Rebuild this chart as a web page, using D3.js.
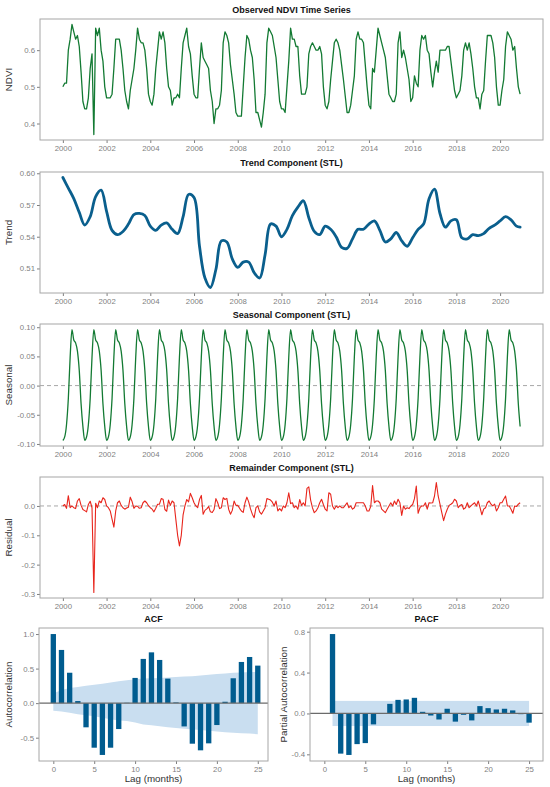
<!DOCTYPE html>
<html>
<head>
<meta charset="utf-8">
<script src="https://cdn.jsdelivr.net/npm/d3@7"></script>
<style>
  body { margin: 0; background: #fff; }
  svg { font-family: "Liberation Sans", Arial, sans-serif; }
  .tick text { fill: #7f7f7f; font-size: 7.8px; }
  .tick line { stroke: #7f7f7f; }
  .ptitle { font-weight: bold; font-size: 9px; fill: #111; }
  .atitle { font-size: 9.8px; fill: #333; }
</style>
</head>
<body>
<script>
// ---- data ----
// monthly NDVI, Jan 2000 .. Dec 2020 (one row per year)
var observed = [
  0.50,0.51,0.51,0.60,0.63,0.67,0.65,0.63,0.64,0.61,0.54,0.46,
  0.44,0.44,0.47,0.55,0.59,0.37,0.66,0.64,0.66,0.60,0.57,0.50,
  0.47,0.47,0.47,0.48,0.55,0.63,0.63,0.63,0.60,0.55,0.49,0.46,
  0.44,0.49,0.52,0.55,0.60,0.66,0.63,0.62,0.62,0.60,0.55,0.48,
  0.46,0.45,0.48,0.55,0.60,0.65,0.63,0.65,0.62,0.55,0.50,0.49,
  0.45,0.47,0.47,0.48,0.47,0.55,0.62,0.64,0.66,0.61,0.59,0.53,
  0.48,0.47,0.47,0.55,0.62,0.58,0.57,0.56,0.55,0.49,0.46,0.40,
  0.44,0.44,0.45,0.49,0.62,0.65,0.64,0.62,0.56,0.52,0.48,0.43,
  0.42,0.42,0.42,0.50,0.58,0.64,0.63,0.60,0.58,0.52,0.43,0.43,
  0.41,0.39,0.43,0.48,0.62,0.66,0.65,0.64,0.61,0.58,0.52,0.46,
  0.44,0.44,0.43,0.50,0.57,0.66,0.63,0.63,0.61,0.61,0.53,0.48,
  0.48,0.48,0.50,0.59,0.61,0.62,0.61,0.60,0.60,0.61,0.59,0.50,
  0.45,0.44,0.46,0.52,0.57,0.62,0.63,0.62,0.60,0.56,0.52,0.475,
  0.43,0.43,0.45,0.49,0.53,0.63,0.65,0.63,0.63,0.62,0.56,0.50,
  0.45,0.44,0.55,0.54,0.60,0.66,0.64,0.62,0.60,0.58,0.53,0.48,
  0.47,0.46,0.46,0.48,0.62,0.65,0.58,0.60,0.58,0.55,0.52,0.46,
  0.47,0.53,0.51,0.50,0.60,0.64,0.63,0.64,0.60,0.59,0.54,0.50,
  0.54,0.57,0.54,0.60,0.60,0.60,0.60,0.61,0.61,0.57,0.53,0.49,
  0.47,0.48,0.49,0.53,0.60,0.62,0.60,0.62,0.59,0.55,0.50,0.47,
  0.47,0.44,0.48,0.49,0.57,0.64,0.64,0.64,0.62,0.58,0.50,0.45,
  0.45,0.49,0.52,0.61,0.65,0.64,0.63,0.60,0.61,0.55,0.50,0.48
];

// STL trend, read every third month (Jan, Apr, Jul, Oct) plus the last month
var trend = [
  0.596,0.586,0.576,0.563, 0.551,0.559,0.578,0.584, 0.564,0.546,0.542,0.545,
  0.552,0.561,0.562,0.560, 0.550,0.546,0.551,0.553, 0.547,0.543,0.559,0.580,
  0.577,0.531,0.501,0.492, 0.509,0.536,0.535,0.519, 0.511,0.516,0.516,0.506,
  0.501,0.523,0.552,0.550, 0.540,0.547,0.560,0.568, 0.574,0.558,0.545,0.542,
  0.550,0.547,0.540,0.530, 0.529,0.538,0.547,0.547, 0.552,0.555,0.546,0.535,
  0.538,0.544,0.536,0.531, 0.539,0.547,0.552,0.576, 0.585,0.562,0.549,0.555,
  0.556,0.539,0.538,0.542, 0.541,0.543,0.548,0.551, 0.555,0.559,0.556,0.550,
  0.549
];

// STL seasonal component, Jan..Dec (identical every year)
var seasonalCycle = [-0.094,-0.088,-0.067,-0.022,0.049,0.096,0.078,0.073,0.059,0.026,-0.031,-0.070];

// STL remainder, monthly
var remainder = [
  0.000,0.005,-0.008,0.035,-0.006,0.000,-0.006,-0.009,0.017,0.025,0.002,-0.012,
  -0.016,-0.020,0.005,0.016,-0.006,-0.295,0.009,-0.006,0.017,0.011,0.028,0.022,
  0.000,-0.006,-0.017,-0.045,-0.072,-0.017,0.011,0.017,0.002,-0.006,-0.011,-0.007,
  -0.004,0.030,0.015,-0.008,0.000,-0.001,-0.008,-0.006,0.011,0.017,0.011,0.001,
  -0.006,-0.011,-0.020,-0.008,0.006,0.006,0.025,0.023,-0.012,-0.018,0.020,0.002,
  0.017,0.011,-0.045,-0.100,-0.136,-0.100,-0.030,0.000,0.022,0.014,0.043,0.028,
  0.011,0.000,-0.006,0.022,0.036,-0.028,-0.015,-0.010,-0.002,-0.020,-0.022,-0.012,
  0.025,0.011,-0.009,-0.006,0.028,0.022,0.026,-0.011,-0.028,-0.015,0.017,0.002,
  0.002,-0.008,-0.017,-0.022,0.011,0.030,0.014,-0.010,-0.028,-0.040,-0.006,0.000,
  -0.020,-0.028,-0.017,-0.006,0.025,0.023,0.020,0.013,0.000,0.017,-0.017,-0.009,
  -0.017,0.000,-0.006,0.011,0.045,0.008,0.011,-0.006,0.000,-0.011,0.022,0.002,
  0.011,0.000,0.060,0.065,0.020,-0.006,-0.023,-0.017,-0.006,0.011,0.023,0.005,
  -0.011,-0.017,0.045,0.040,0.000,-0.011,0.000,-0.006,0.000,-0.006,-0.006,0.002,
  0.011,-0.006,0.000,-0.011,-0.006,0.011,0.011,0.011,0.011,0.011,0.000,-0.017,
  -0.017,-0.002,0.070,0.011,0.017,0.017,0.011,-0.011,-0.017,-0.023,-0.011,0.000,
  0.011,0.000,0.017,0.005,0.023,0.011,-0.032,0.000,-0.011,-0.006,-0.009,0.000,
  0.005,0.025,0.068,-0.025,-0.006,0.000,0.000,0.011,-0.011,0.011,0.010,0.011,
  0.034,0.080,0.034,0.006,-0.023,-0.050,-0.028,-0.011,0.002,0.006,0.011,0.023,
  0.017,-0.006,0.002,0.005,-0.011,-0.006,0.011,-0.006,0.000,0.006,0.011,0.000,
  0.017,-0.006,-0.030,-0.011,-0.006,0.011,0.017,0.006,0.000,0.006,-0.017,-0.006,
  0.011,0.011,0.023,0.034,0.000,0.000,-0.011,-0.025,0.000,-0.002,0.006,0.011
];

// ACF, lags 0..25, with the band edges
var acf = [1.00,0.77,0.44,0.03,-0.35,-0.645,-0.75,-0.645,-0.375,0.005,0.365,0.64,0.735,
           0.625,0.355,0.01,-0.337,-0.587,-0.683,-0.582,-0.317,0.02,0.36,0.596,0.668,0.543];
var acfUpper = [0.14,0.19,0.22,0.235,0.25,0.265,0.28,0.30,0.315,0.33,0.345,0.355,0.36,
                0.365,0.37,0.38,0.385,0.39,0.40,0.41,0.42,0.43,0.44,0.445,0.45,0.45];
var acfLower = [-0.11,-0.12,-0.14,-0.16,-0.175,-0.19,-0.21,-0.235,-0.25,-0.26,-0.28,-0.31,-0.32,
                -0.335,-0.35,-0.36,-0.37,-0.38,-0.39,-0.40,-0.41,-0.42,-0.43,-0.435,-0.44,-0.45];

// PACF, lags 1..25, and its constant band
var pacf = [0.777,-0.393,-0.406,-0.30,-0.29,-0.107,0.003,0.094,0.133,0.137,0.153,0.016,-0.02,
            -0.059,0.046,-0.08,-0.013,-0.068,0.072,0.052,0.039,0.046,0.03,-0.007,-0.09];
var pacfBand = 0.123;

var yearTicks = [2000,2002,2004,2006,2008,2010,2012,2014,2016,2018,2020];
var lagTicks = [0,5,10,15,20,25];
var ndviTicks = [0.4,0.5,0.6];
var trendTicks = [0.51,0.54,0.57,0.60];
var seasonalTicks = [-0.10,-0.05,0.00,0.05,0.10];
var residTicks = [-0.3,-0.2,-0.1,0.0];
var acfTicks = [-0.5,0.0,0.5,1.0];
var pacfTicks = [-0.4,0.0,0.4,0.8];

// ---- drawing ----
var svg = d3.select("body").append("svg").attr("width", 550).attr("height", 787);

function fmt(spec) {
  var f = d3.format(spec);
  return function(v) { return f(v).replace("\u2212", "-"); };
}

function padded(ext) {
  var p = (ext[1] - ext[0]) * 0.05;
  return [ext[0] - p, ext[1] + p];
}

function panel(o) {
  var g = svg.append("g");
  g.append("g")
    .attr("transform", `translate(${o.left},0)`)
    .call(d3.axisLeft(o.y).tickValues(o.yTicks).tickFormat(o.yFmt).tickSize(3).tickPadding(2))
    .call(a => a.select(".domain").remove());
  g.append("g")
    .attr("transform", `translate(0,${o.bottom})`)
    .call(d3.axisBottom(o.x).tickValues(o.xTicks).tickFormat(o.xFmt).tickSize(3).tickPadding(2))
    .call(a => a.select(".domain").remove());
  g.append("text").attr("class", "ptitle")
    .attr("x", (o.left + o.right) / 2).attr("y", o.top - 6)
    .attr("text-anchor", "middle").text(o.title);
  g.append("text").attr("class", "atitle")
    .attr("transform", `translate(${o.ylabX},${(o.top + o.bottom) / 2}) rotate(-90)`)
    .attr("text-anchor", "middle").text(o.ylab);
  if (o.xlab) {
    g.append("text").attr("class", "atitle")
      .attr("x", (o.left + o.right) / 2).attr("y", o.bottom + 21)
      .attr("text-anchor", "middle").text(o.xlab);
  }
  var plot = g.append("g");
  g.append("rect")
    .attr("x", o.left).attr("y", o.top)
    .attr("width", o.right - o.left).attr("height", o.bottom - o.top)
    .attr("fill", "none").attr("stroke", "#a6a6a6").attr("stroke-width", 1);
  return plot;
}

// time axis shared by the four STL panels
var times = observed.map((d, i) => 2000 + i / 12);
var x = d3.scaleLinear().domain(padded(d3.extent(times))).range([40, 543]);
var yearFmt = d3.format("d");

function zeroDash(g, y) {
  g.append("line")
    .attr("x1", 40).attr("x2", 543)
    .attr("y1", y(0)).attr("y2", y(0))
    .attr("stroke", "#a8a8a8").attr("stroke-width", 1).attr("stroke-dasharray", "4,3");
}

// 1. observed
var y1 = d3.scaleLinear().domain(padded(d3.extent(observed))).range([140, 19]);
var g1 = panel({left: 40, right: 543, top: 19, bottom: 140, x: x, y: y1,
  xTicks: yearTicks, xFmt: yearFmt, yTicks: ndviTicks, yFmt: fmt(".1f"),
  title: "Observed NDVI Time Series", ylab: "NDVI", ylabX: 12});
g1.append("path")
  .datum(observed)
  .attr("fill", "none").attr("stroke", "#137a33").attr("stroke-width", 1.3)
  .attr("stroke-linejoin", "round")
  .attr("d", d3.line().x((d, i) => x(times[i])).y(d => y1(d)));

// 2. trend
var trendMonth = trend.map((d, i) => Math.min(i * 3, observed.length - 1));
var y2 = d3.scaleLinear().domain(padded(d3.extent(trend))).range([293, 172]);
var g2 = panel({left: 40, right: 543, top: 172, bottom: 293, x: x, y: y2,
  xTicks: yearTicks, xFmt: yearFmt, yTicks: trendTicks, yFmt: fmt(".2f"),
  title: "Trend Component (STL)", ylab: "Trend", ylabX: 12});
g2.append("path")
  .datum(trend)
  .attr("fill", "none").attr("stroke", "#0a5f8d").attr("stroke-width", 2.8)
  .attr("stroke-linejoin", "round").attr("stroke-linecap", "round")
  .attr("d", d3.line().curve(d3.curveCatmullRom)
    .x((d, i) => x(2000 + trendMonth[i] / 12)).y(d => y2(d)));

// 3. seasonal
var seasonal = times.map((t, i) => seasonalCycle[i % 12]);
var y3 = d3.scaleLinear().domain(padded(d3.extent(seasonal))).range([446, 324]);
var g3 = panel({left: 40, right: 543, top: 324, bottom: 446, x: x, y: y3,
  xTicks: yearTicks, xFmt: yearFmt, yTicks: seasonalTicks, yFmt: fmt(".2f"),
  title: "Seasonal Component (STL)", ylab: "Seasonal", ylabX: 12});
zeroDash(g3, y3);
g3.append("path")
  .datum(seasonal)
  .attr("fill", "none").attr("stroke", "#137a33").attr("stroke-width", 1.3)
  .attr("stroke-linejoin", "round")
  .attr("d", d3.line().curve(d3.curveMonotoneX).x((d, i) => x(times[i])).y(d => y3(d)));

// 4. remainder
var y4 = d3.scaleLinear().domain(padded(d3.extent(remainder))).range([598, 477]);
var g4 = panel({left: 40, right: 543, top: 477, bottom: 598, x: x, y: y4,
  xTicks: yearTicks, xFmt: yearFmt, yTicks: residTicks, yFmt: fmt(".1f"),
  title: "Remainder Component (STL)", ylab: "Residual", ylabX: 12});
zeroDash(g4, y4);
g4.append("path")
  .datum(remainder)
  .attr("fill", "none").attr("stroke", "#e8251c").attr("stroke-width", 1.1)
  .attr("stroke-linejoin", "round")
  .attr("d", d3.line().x((d, i) => x(times[i])).y(d => y4(d)));

// 5. ACF
var barW = 0.65;
var acfLags = acf.map((d, i) => i);
var xa = d3.scaleLinear().domain([-1.75, 26.25]).range([39, 268]);
var ya = d3.scaleLinear()
  .domain(padded([d3.min(acf.concat(acfLower)), d3.max(acf.concat(acfUpper))]))
  .range([761, 628]);
var g5 = panel({left: 39, right: 268, top: 628, bottom: 761, x: xa, y: ya,
  xTicks: lagTicks, xFmt: d3.format("d"), yTicks: acfTicks, yFmt: fmt(".1f"),
  title: "ACF", ylab: "Autocorrelation", ylabX: 12, xlab: "Lag (months)"});
g5.append("path")
  .datum(acfLags)
  .attr("fill", "#c9def0")
  .attr("d", d3.area().x(d => xa(d)).y0(d => ya(acfLower[d])).y1(d => ya(acfUpper[d])));
g5.selectAll("rect.bar").data(acf).enter().append("rect")
  .attr("class", "bar")
  .attr("x", (d, i) => xa(acfLags[i] - barW / 2))
  .attr("width", xa(barW) - xa(0))
  .attr("y", d => ya(Math.max(0, d)))
  .attr("height", d => Math.abs(ya(d) - ya(0)))
  .attr("fill", "#005c8f");
g5.append("line")
  .attr("x1", 39).attr("x2", 268).attr("y1", ya(0)).attr("y2", ya(0))
  .attr("stroke", "#6b6b6b").attr("stroke-width", 1.3);

// 6. PACF
var pacfLags = pacf.map((d, i) => i + 1);
var xp = d3.scaleLinear().domain([-1.75, 26.7]).range([310, 543]);
var yp = d3.scaleLinear()
  .domain(padded([Math.min(d3.min(pacf), -pacfBand), Math.max(d3.max(pacf), pacfBand)]))
  .range([761, 628]);
var g6 = panel({left: 310, right: 543, top: 628, bottom: 761, x: xp, y: yp,
  xTicks: lagTicks, xFmt: d3.format("d"), yTicks: pacfTicks, yFmt: fmt(".1f"),
  title: "PACF", ylab: "Partial Autocorrelation", ylabX: 287, xlab: "Lag (months)"});
g6.append("rect")
  .attr("x", xp(d3.min(pacfLags))).attr("width", xp(d3.max(pacfLags)) - xp(d3.min(pacfLags)))
  .attr("y", yp(pacfBand)).attr("height", yp(-pacfBand) - yp(pacfBand))
  .attr("fill", "#c9def0");
g6.selectAll("rect.bar").data(pacf).enter().append("rect")
  .attr("class", "bar")
  .attr("x", (d, i) => xp(pacfLags[i] - barW / 2))
  .attr("width", xp(barW) - xp(0))
  .attr("y", d => yp(Math.max(0, d)))
  .attr("height", d => Math.abs(yp(d) - yp(0)))
  .attr("fill", "#005c8f");
g6.append("line")
  .attr("x1", 310).attr("x2", 543).attr("y1", yp(0)).attr("y2", yp(0))
  .attr("stroke", "#6b6b6b").attr("stroke-width", 1.3);
</script>
</body>
</html>
